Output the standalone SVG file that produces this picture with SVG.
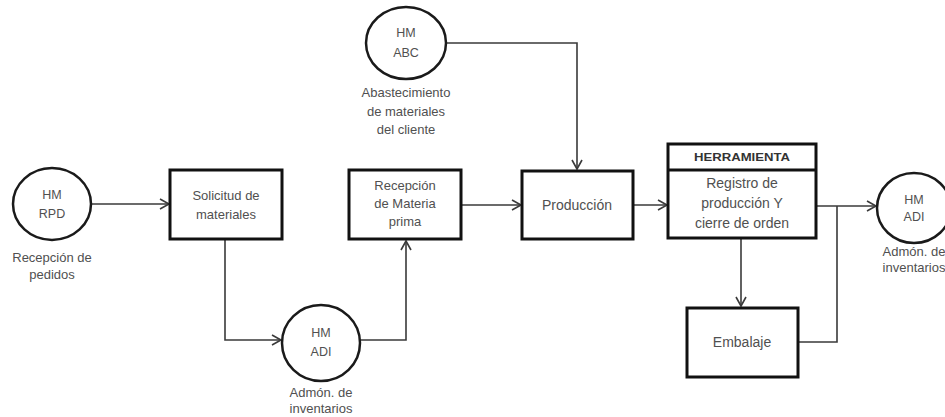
<svg xmlns="http://www.w3.org/2000/svg" width="945" height="417" viewBox="0 0 945 417">
  <style>
    .box { fill: #ffffff; stroke: #111111; stroke-width: 3; }
    .circ { fill: #ffffff; stroke: #1a1a1a; stroke-width: 2.5; }
    .t { font-family: "Liberation Sans", Arial, sans-serif; font-size: 13px; fill: #505050; text-anchor: middle; }
    .t14 { font-size: 14px; }
    .tc { font-family: "Liberation Sans", Arial, sans-serif; font-size: 12.5px; fill: #505050; text-anchor: middle; }
    .hdr { font-family: "Liberation Sans", Arial, sans-serif; font-size: 11px; font-weight: bold; fill: #333333; text-anchor: middle; }
    .conn { fill: none; stroke: #3a3a3a; stroke-width: 1.6; }
  </style>
  <defs>
    <marker id="arrow" markerWidth="12" markerHeight="12" refX="10" refY="6" orient="auto" markerUnits="userSpaceOnUse">
      <path d="M1,1 L10,6 L1,11" fill="none" stroke="#3a3a3a" stroke-width="1.6"/>
    </marker>
  </defs>
  <rect width="945" height="417" fill="#ffffff"/>

  <!-- connectors -->
  <g id="connectors">
    <path class="conn" d="M91,204 L169,204" marker-end="url(#arrow)"/>
    <path class="conn" d="M225,239 L225,340 L281,340" marker-end="url(#arrow)"/>
    <path class="conn" d="M360,340 L406,340 L406,241" marker-end="url(#arrow)"/>
    <path class="conn" d="M446,43 L577,43 L577,169" marker-end="url(#arrow)"/>
    <path class="conn" d="M461,205 L521,205" marker-end="url(#arrow)"/>
    <path class="conn" d="M633,205 L667,205" marker-end="url(#arrow)"/>
    <path class="conn" d="M741,238 L741,306" marker-end="url(#arrow)"/>
    <path class="conn" d="M816,206 L876,206" marker-end="url(#arrow)"/>
    <path class="conn" d="M798,342 L837,342 L837,206"/>
  </g>

  <!-- HM RPD -->
  <g id="hm-rpd">
    <ellipse class="circ" cx="52" cy="204" rx="39" ry="36"/>
    <text class="tc" x="52" y="199">HM</text>
    <text class="tc" x="52" y="218">RPD</text>
    <text class="t" x="52" y="262">Recepción de</text>
    <text class="t" x="52" y="279">pedidos</text>
  </g>

  <!-- Solicitud de materiales -->
  <g id="solicitud">
    <rect class="box" x="170" y="170" width="112" height="69"/>
    <text class="t" x="226" y="200">Solicitud de</text>
    <text class="t" x="226" y="219">materiales</text>
  </g>

  <!-- HM ADI (inventarios, lower) -->
  <g id="hm-adi-1">
    <ellipse class="circ" cx="321" cy="343" rx="39" ry="38"/>
    <text class="tc" x="321" y="337">HM</text>
    <text class="tc" x="321" y="356">ADI</text>
    <text class="t" x="321" y="397">Admón. de</text>
    <text class="t" x="321" y="413">inventarios</text>
  </g>

  <!-- Recepción de Materia prima -->
  <g id="recepcion">
    <rect class="box" x="349" y="170" width="112" height="69"/>
    <text class="t" x="405" y="190">Recepción</text>
    <text class="t" x="405" y="208">de Materia</text>
    <text class="t" x="405" y="226">prima</text>
  </g>

  <!-- HM ABC -->
  <g id="hm-abc">
    <ellipse class="circ" cx="406" cy="43" rx="40" ry="36"/>
    <text class="tc" x="406" y="37">HM</text>
    <text class="tc" x="406" y="57">ABC</text>
    <text class="t" x="406" y="97">Abastecimiento</text>
    <text class="t" x="406" y="116">de materiales</text>
    <text class="t" x="406" y="134">del cliente</text>
  </g>

  <!-- Producción -->
  <g id="produccion">
    <rect class="box" x="522" y="171" width="111" height="68"/>
    <text class="t t14" x="577" y="210">Producción</text>
  </g>

  <!-- Registro de producción -->
  <g id="registro">
    <rect class="box" x="668" y="144" width="148" height="94"/>
    <line x1="668" y1="170" x2="816" y2="170" stroke="#111111" stroke-width="3"/>
    <text class="hdr" x="742" y="161" textLength="96" lengthAdjust="spacingAndGlyphs">HERRAMIENTA</text>
    <text class="t t14" x="742" y="188">Registro de</text>
    <text class="t t14" x="742" y="208">producción Y</text>
    <text class="t t14" x="742" y="228">cierre de orden</text>
  </g>

  <!-- Embalaje -->
  <g id="embalaje">
    <rect class="box" x="687" y="308" width="111" height="69"/>
    <text class="t t14" x="742" y="347">Embalaje</text>
  </g>

  <!-- HM ADI (inventarios, right) -->
  <g id="hm-adi-2">
    <ellipse class="circ" cx="914" cy="208" rx="37" ry="35"/>
    <text class="tc" x="914" y="204">HM</text>
    <text class="tc" x="914" y="221">ADI</text>
    <text class="t" x="914" y="256">Admón. de</text>
    <text class="t" x="914" y="272">inventarios</text>
  </g>
</svg>
